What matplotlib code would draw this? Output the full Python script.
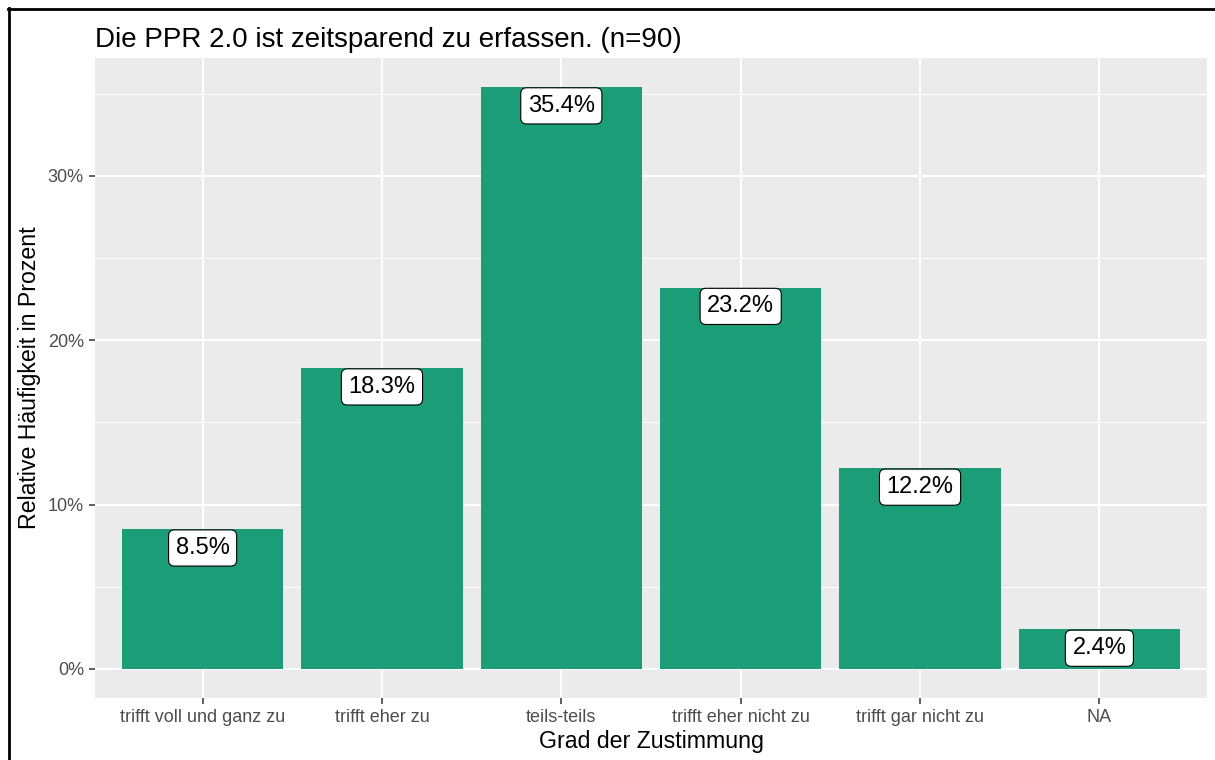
import matplotlib.pyplot as plt
from matplotlib.ticker import MultipleLocator, FuncFormatter
import matplotlib.lines as mlines

plt.rcParams['font.family'] = ['Liberation Sans', 'DejaVu Sans']

kategorien = ["trifft voll und ganz zu", "trifft eher zu", "teils-teils",
              "trifft eher nicht zu", "trifft gar nicht zu", "NA"]
prozent = [8.5, 18.3, 35.4, 23.2, 12.2, 2.4]
titel = "Die PPR 2.0 ist zeitsparend zu erfassen. (n=90)"

fig = plt.figure(figsize=(12.15, 7.6), dpi=100)
ax = fig.add_axes([95/1215, 1-698/760, (1207-95)/1215, (698-58)/760])
ax.set_facecolor("#EBEBEB")

x = list(range(len(kategorien)))
ax.bar(x, prozent, width=0.9, color="#1B9E77", zorder=3)

fs_label = 17
pad = 0.3
for xi, p in zip(x, prozent):
    # box oben buendig mit dem Balken (wie geom_label vjust=1)
    ax.annotate(f"{p:.1f}%", (xi, p), xytext=(0, -pad*fs_label - 0.5),
                textcoords="offset points", ha="center", va="top",
                fontsize=fs_label, zorder=4,
                bbox=dict(boxstyle=f"round,pad={pad},rounding_size=0.25",
                          fc="white", ec="black", lw=0.8))

top = max(prozent)
ax.set_ylim(-0.05*top, top*1.05)
ax.set_xlim(-0.6, len(kategorien)-0.4)

ax.yaxis.set_major_locator(MultipleLocator(10))
ax.yaxis.set_minor_locator(MultipleLocator(5))
ax.yaxis.set_major_formatter(FuncFormatter(lambda v, pos: f"{v:.0f}%"))
ax.set_xticks(x)
ax.set_xticklabels(kategorien)

ax.grid(which="major", color="white", lw=1.4, zorder=0)
ax.grid(which="minor", axis="y", color="white", lw=0.7, zorder=0)
ax.set_axisbelow(True)
for s in ax.spines.values():
    s.set_visible(False)

ax.tick_params(which="major", length=4, width=1.1, color="#333333",
               labelcolor="#4D4D4D", labelsize=13, pad=4)
ax.tick_params(which="minor", length=0)

ax.set_xlabel("Grad der Zustimmung", fontsize=16.7, labelpad=3)
ax.set_ylabel("Relative Häufigkeit in Prozent", fontsize=16.7, labelpad=5)
ax.set_title(titel, loc="left", fontsize=20, pad=8)

# Rahmen links und oben
fig.add_artist(mlines.Line2D([9/1215, 9/1215], [0, 1-8/760], color="black", lw=2,
                             transform=fig.transFigure))
fig.add_artist(mlines.Line2D([8/1215, 1], [1-9/760, 1-9/760], color="black", lw=2,
                             transform=fig.transFigure))

fig.savefig("out.png", dpi=100)
